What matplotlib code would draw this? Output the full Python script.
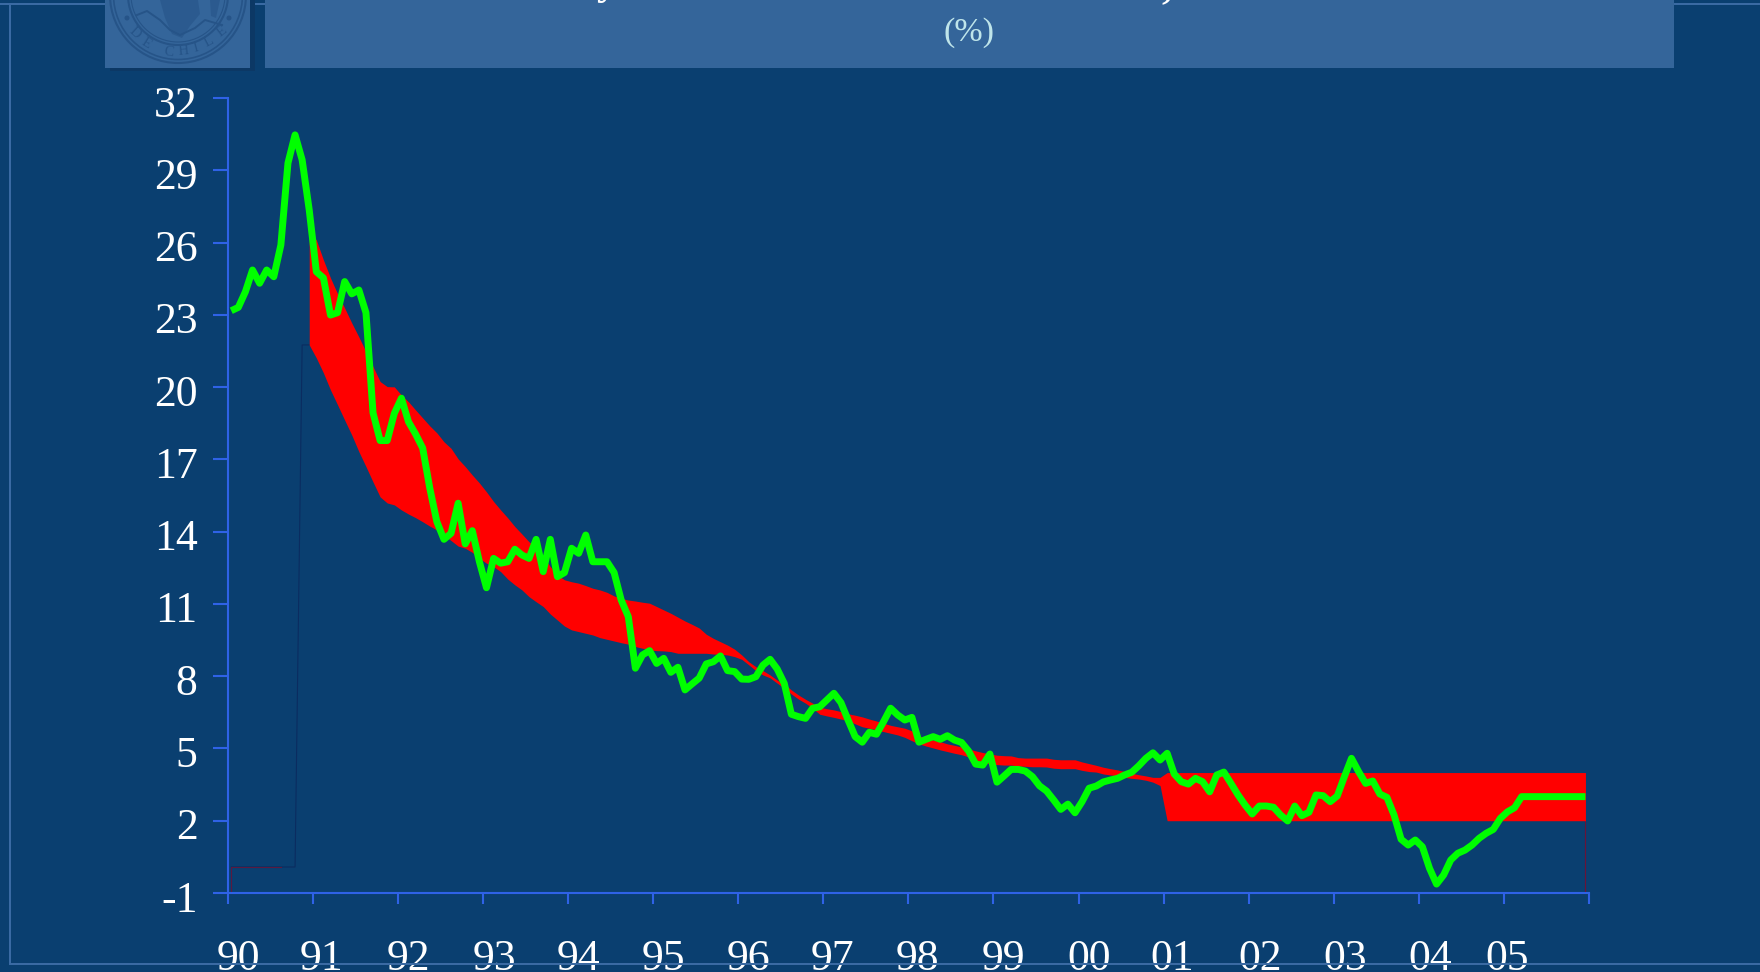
import matplotlib

matplotlib.use("Agg")
import matplotlib.pyplot as plt
from matplotlib.patches import Ellipse, Polygon, Rectangle
from matplotlib.transforms import ScaledTranslation

W, H = 1760, 972

years = ["90", "91", "92", "93", "94", "95", "96", "97", "98", "99", "00", "01", "02", "03", "04", "05", ""]
y_ticks = [-1, 2, 5, 8, 11, 14, 17, 20, 23, 26, 29, 32]

# monthly rate, Jan 1990 to Dec 2005
rate = [
    23.17, 23.31, 23.96, 24.86, 24.31, 24.86, 24.58, 25.9, 29.3, 30.47, 29.43, 27.35,
    24.79, 24.53, 22.99, 23.09, 24.38, 23.87, 24.03, 23.09, 18.93, 17.78, 17.78, 18.91,
    19.54, 18.56, 18.05, 17.47, 15.81, 14.41, 13.68, 13.93, 15.18, 13.49, 14.04, 12.75,
    11.67, 12.89, 12.69, 12.75, 13.27, 13.03, 12.89, 13.68, 12.34, 13.68, 12.13, 12.3,
    13.31, 13.1, 13.86, 12.75, 12.75, 12.75, 12.3, 11.16, 10.47, 8.33, 8.88, 9.06,
    8.53, 8.74, 8.16, 8.37, 7.43, 7.68, 7.92, 8.51, 8.6, 8.84, 8.23, 8.19,
    7.88, 7.87, 7.98, 8.46, 8.7, 8.3, 7.7, 6.42, 6.32, 6.25, 6.67, 6.73,
    7.01, 7.29, 6.9, 6.18, 5.49, 5.26, 5.67, 5.59, 6.11, 6.67, 6.39, 6.18,
    6.29, 5.26, 5.38, 5.49, 5.38, 5.53, 5.35, 5.25, 4.89, 4.35, 4.31, 4.77,
    3.6, 3.86, 4.13, 4.13, 4.06, 3.83, 3.45, 3.23, 2.86, 2.47, 2.69, 2.33,
    2.79, 3.35, 3.44, 3.61, 3.69, 3.76, 3.9, 4.01, 4.28, 4.59, 4.82, 4.52,
    4.8, 3.94, 3.62, 3.52, 3.76, 3.62, 3.2, 3.9, 4.02, 3.55, 3.07, 2.65,
    2.28, 2.61, 2.61, 2.56, 2.24, 1.99, 2.61, 2.21, 2.35, 3.07, 3.04, 2.79,
    3.03, 3.83, 4.59, 4.04, 3.55, 3.65, 3.11, 2.97, 2.24, 1.23, 0.99, 1.2,
    0.92, 0.03, -0.63, -0.25, 0.37, 0.65, 0.78, 0.99, 1.27, 1.48, 1.64, 2.1,
    2.37, 2.54, 3.0, 3.0, 3.0, 3.0, 3.0, 3.0, 3.0, 3.0, 3.0, 3.0,
]

# target band, from Dec 1990 to Dec 2005
band_start = 11
band_upper = [
    26.4,
    26.11, 25.28, 24.53, 23.87, 23.28, 22.66, 22.08, 21.47, 20.85, 20.23, 20.02, 20.01,
    19.67, 19.39, 19.05, 18.72, 18.39, 18.1, 17.73, 17.46, 17.02, 16.7, 16.35, 16.02,
    15.65, 15.25, 14.9, 14.57, 14.21, 13.9, 13.58, 13.32, 12.96, 12.55, 12.2, 12.0,
    11.92, 11.86, 11.76, 11.65, 11.58, 11.48, 11.33, 11.23, 11.16, 11.12, 11.07, 11.03,
    10.89, 10.75, 10.61, 10.45, 10.29, 10.15, 10.0, 9.74, 9.57, 9.43, 9.29, 9.12,
    8.88, 8.6, 8.39, 8.23, 8.05, 7.84, 7.68, 7.43, 7.22, 7.04, 6.88, 6.71,
    6.65, 6.6, 6.53, 6.44, 6.38, 6.31, 6.22, 6.14, 6.05, 5.96, 5.9, 5.84,
    5.73, 5.52, 5.44, 5.35, 5.28, 5.19, 5.13, 5.06, 4.98, 4.9, 4.83, 4.77,
    4.72, 4.7, 4.69, 4.62, 4.6, 4.6, 4.6, 4.6, 4.55, 4.53, 4.53, 4.53,
    4.44, 4.37, 4.3, 4.22, 4.16, 4.11, 4.04, 3.97, 3.91, 3.86, 3.8, 3.8,
    4.0, 4.0, 4.0, 4.0, 4.0, 4.0, 4.0, 4.0, 4.0, 4.0, 4.0, 4.0,
    4.0, 4.0, 4.0, 4.0, 4.0, 4.0, 4.0, 4.0, 4.0, 4.0, 4.0, 4.0,
    4.0, 4.0, 4.0, 4.0, 4.0, 4.0, 4.0, 4.0, 4.0, 4.0, 4.0, 4.0,
    4.0, 4.0, 4.0, 4.0, 4.0, 4.0, 4.0, 4.0, 4.0, 4.0, 4.0, 4.0,
    4.0, 4.0, 4.0, 4.0, 4.0, 4.0, 4.0, 4.0, 4.0, 4.0, 4.0, 4.0,
]
band_lower = [
    21.75,
    21.21, 20.59, 19.88, 19.26, 18.63, 18.01, 17.32, 16.7, 16.06, 15.44, 15.19, 15.11,
    14.9, 14.73, 14.58, 14.41, 14.23, 14.07, 13.86, 13.63, 13.4, 13.31, 13.14, 12.89,
    12.69, 12.55, 12.34, 12.03, 11.79, 11.58, 11.3, 11.09, 10.89, 10.58, 10.33, 10.08,
    9.92, 9.85, 9.78, 9.71, 9.6, 9.53, 9.46, 9.39, 9.33, 9.23, 9.16, 9.09,
    9.06, 9.05, 9.02, 8.95, 8.95, 8.95, 8.95, 8.95, 8.92, 8.91, 8.88, 8.81,
    8.7, 8.47, 8.23, 8.05, 7.93, 7.71, 7.5, 7.26, 7.05, 6.88, 6.67, 6.42,
    6.35, 6.29, 6.22, 6.15, 6.02, 5.9, 5.84, 5.77, 5.7, 5.63, 5.56, 5.46,
    5.32, 5.19, 5.1, 5.02, 4.94, 4.87, 4.8, 4.74, 4.65, 4.52, 4.44, 4.36,
    4.33, 4.31, 4.31, 4.27, 4.26, 4.24, 4.24, 4.23, 4.18, 4.16, 4.16, 4.16,
    4.09, 4.04, 4.02, 3.94, 3.9, 3.86, 3.8, 3.76, 3.73, 3.68, 3.6, 3.46,
    2.0, 2.0, 2.0, 2.0, 2.0, 2.0, 2.0, 2.0, 2.0, 2.0, 2.0, 2.0,
    2.0, 2.0, 2.0, 2.0, 2.0, 2.0, 2.0, 2.0, 2.0, 2.0, 2.0, 2.0,
    2.0, 2.0, 2.0, 2.0, 2.0, 2.0, 2.0, 2.0, 2.0, 2.0, 2.0, 2.0,
    2.0, 2.0, 2.0, 2.0, 2.0, 2.0, 2.0, 2.0, 2.0, 2.0, 2.0, 2.0,
    2.0, 2.0, 2.0, 2.0, 2.0, 2.0, 2.0, 2.0, 2.0, 2.0, 2.0, 2.0,
]
# invisible base of the stacked area, only its thin edge shows
base_before = [0.08, 0.08, 0.08, 0.08, 0.08, 0.08, 0.08, 0.08, 0.08, 0.08, 21.75, 21.75]

BG = "#0A3F70"
PANEL = "#34659A"
CREST = "#265488"
FRAME = "#3A6AA3"
AXIS = "#2F62E6"


def fx(px):
    return px / W


def fy(py):
    return 1 - py / H


def add_rect(fig, x0, y0, x1, y1, color, zorder=1):
    fig.add_artist(Rectangle((fx(x0), fy(y1)), (x1 - x0) / W, (y1 - y0) / H,
                             transform=fig.transFigure, color=color, lw=0, zorder=zorder))


def draw_crest(fig, cx=178, cy=-5):
    # seal in pixel coordinates, top part is cut by the page edge
    sx = 1 / W
    sy = 1 / H
    for r, lw in [(68, 1.5), (64.5, 1.2), (50, 1.5), (47, 0.8)]:
        fig.add_artist(Ellipse((fx(cx), fy(cy)), 2 * r * sx, 2 * r * sy, transform=fig.transFigure,
                               fill=False, ec=CREST, lw=lw, zorder=3))
    for dx in (-51, 51):
        fig.add_artist(Ellipse((fx(cx + dx), fy(18)), 5 * sx, 5 * sy, transform=fig.transFigure,
                               color=CREST, lw=0, zorder=3))
    # hills and the bird, rough strokes
    hills = [(137, 15), (147, 11), (160, 20), (170, 30), (180, 35), (195, 28), (205, 20), (222, 25)]
    fig.add_artist(plt.Line2D([fx(p[0]) for p in hills], [fy(p[1]) for p in hills],
                              color=CREST, lw=1.4, zorder=3))
    bird = [(160, 0), (198, 0), (200, 14), (190, 26), (182, 38), (172, 34), (165, 18)]
    fig.add_artist(Polygon([(fx(p[0]), fy(p[1])) for p in bird], transform=fig.transFigure,
                           fc=CREST, ec="none", alpha=0.6, zorder=3))
    wing = [(210, 0), (220, 0), (216, 18), (211, 16)]
    fig.add_artist(Polygon([(fx(p[0]), fy(p[1])) for p in wing], transform=fig.transFigure,
                           fc=CREST, ec="none", alpha=0.6, zorder=3))
    letters = [("D", 135, 33, -42), ("E", 146, 43, -32), ("C", 169, 52, -8), ("H", 184, 51, 5),
               ("I", 196, 48, 15), ("L", 209, 42, 28), ("E", 222, 32, 38)]
    for ch, x, y, rot in letters:
        fig.text(fx(x), fy(y), ch, color=CREST, fontsize=10.5, family="Liberation Serif",
                 rotation=rot, ha="center", va="center", zorder=3)


fig = plt.figure(figsize=(W / 100, H / 100), dpi=100, facecolor=BG)

# slide frame and header
add_rect(fig, 0, 3, W, 5, FRAME)
add_rect(fig, 8.5, 3, 10.5, 965, FRAME)
add_rect(fig, 8.5, 963, W, 965, FRAME)
add_rect(fig, 110, 0, 255, 71, "#0C3865", zorder=2)
add_rect(fig, 105, 0, 250, 68, PANEL, zorder=2)
add_rect(fig, 265, 0, 1674, 68, PANEL, zorder=2)
draw_crest(fig)
fig.text(fx(969), fy(33), "(%)", color="#BFE5EA", fontsize=24.5, family="Liberation Serif",
         ha="center", va="center", zorder=4)
# the title line is cut by the page edge, only these tails are left
fig.text(fx(607), fy(-6), "y", color="white", fontsize=30, fontweight="bold", family="Liberation Serif",
         ha="center", va="baseline", zorder=4)
fig.text(fx(1167), fy(-3), ",", color="white", fontsize=30, fontweight="bold", family="Liberation Serif",
         ha="center", va="baseline", zorder=4)

ax = fig.add_axes([fx(227.7), fy(893), (1589 - 227.7) / W, (893 - 98) / H])
ax.set_facecolor("none")
ax.set_xlim(0, 192)
ax.set_ylim(-1, 32)

months = [m + 0.5 for m in range(len(rate))]
band_x = months[band_start:]

ax.fill_between(band_x, band_lower, band_upper, color="#FF0000", lw=0, zorder=2)
ax.plot(months[:len(base_before)], base_before, color="#0B2C60", lw=0.8, zorder=1)
ax.plot([months[0], months[0], months[7]], [-1, base_before[0], base_before[0]], color="#5A1A40", lw=0.8, zorder=1)
ax.plot([months[-1], months[-1]], [-1, band_lower[-1]], color="#6A1238", lw=0.8, zorder=1)
ax.plot(months, rate, color="#00FF00", lw=5, solid_joinstyle="round", solid_capstyle="butt", zorder=3)

for side in ("top", "right"):
    ax.spines[side].set_visible(False)
for side in ("left", "bottom"):
    ax.spines[side].set_color(AXIS)
    ax.spines[side].set_linewidth(1.5)

ax.set_yticks(y_ticks)
ax.set_yticklabels([str(v) for v in y_ticks])
ax.set_xticks([12 * i for i in range(len(years))])
ax.set_xticklabels(years)
ax.tick_params(axis="y", length=10.8, width=1.5, color=AXIS, labelcolor="white", pad=11)
ax.tick_params(axis="x", length=8, width=1.5, color=AXIS, labelcolor="white", pad=25)
for lab in ax.get_yticklabels() + ax.get_xticklabels():
    lab.set_fontfamily("Liberation Serif")
    lab.set_fontsize(31.5)

# labels sit off their ticks in the original
for lab in ax.get_yticklabels():
    lab.set_transform(lab.get_transform() + ScaledTranslation(0, -2.2 / 72, fig.dpi_scale_trans))
x_shift = [11, 9, 11, 11, 10, 10, 10, 9, 9, 10, 11, 9, 11, 11, 11, 3, 0]
for lab, dx in zip(ax.get_xticklabels(), x_shift):
    lab.set_transform(lab.get_transform() + ScaledTranslation(dx / 100, 0, fig.dpi_scale_trans))

fig.savefig("out.png", dpi=100, facecolor=fig.get_facecolor())
